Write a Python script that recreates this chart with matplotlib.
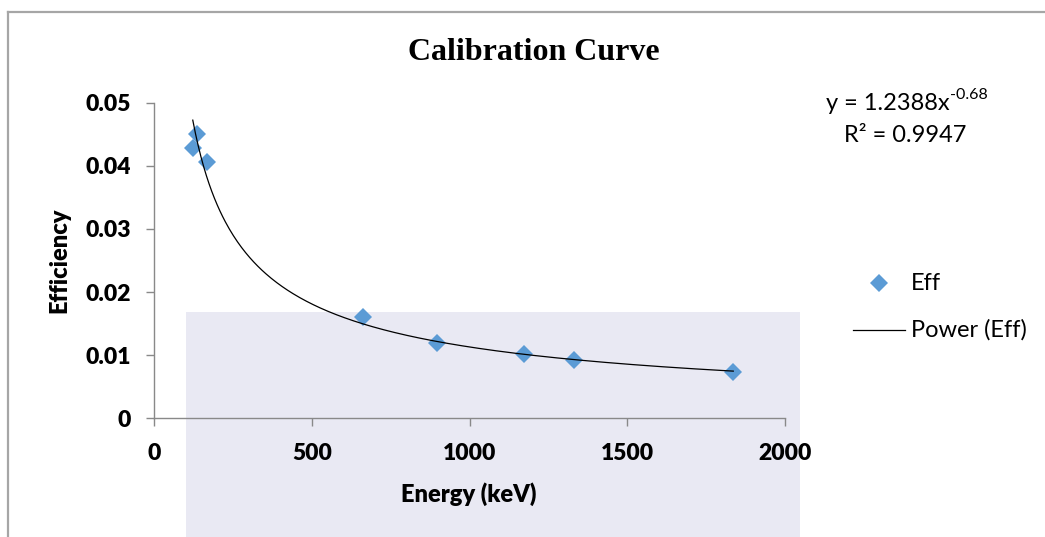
import numpy as np
import matplotlib
matplotlib.use("Agg")
import matplotlib.pyplot as plt
from matplotlib.patches import Rectangle
from matplotlib.lines import Line2D

# Measured detector efficiency at each gamma-ray energy
energy_kev = [122, 136, 166, 662, 898, 1173, 1332, 1836]
efficiency = [0.0429, 0.0451, 0.0406, 0.0161, 0.0119, 0.0102, 0.0092, 0.0073]

# Power-law trendline coefficients (y = a * x^b)
fit_a = 1.2388
fit_b = -0.68
fit_r2 = 0.9947

x_ticks = [0, 500, 1000, 1500, 2000]
y_ticks = [0, 0.01, 0.02, 0.03, 0.04, 0.05]
y_tick_labels = ["0", "0.01", "0.02", "0.03", "0.04", "0.05"]

W, H = 1045, 537
fig = plt.figure(figsize=(W / 100, H / 100), dpi=100)
fig.patch.set_facecolor("white")

# chart area frame
fig.add_artist(Line2D([7.5 / W, 1.0], [1 - 12 / H, 1 - 12 / H], color="#a6a6a6", lw=1.6))
fig.add_artist(Line2D([7.5 / W, 7.5 / W], [0, 1 - 12 / H], color="#a6a6a6", lw=1.6))

# pale background panel behind the lower part of the plot
fig.add_artist(Rectangle((186 / W, 0), (800 - 186) / W, (537 - 312) / H,
                         transform=fig.transFigure, facecolor="#e9e9f3",
                         edgecolor="none", zorder=0))

ax = fig.add_axes([154.3 / W, 1 - 418.3 / H, (785 - 154.3) / W, (418.3 - 102.7) / H])
ax.set_facecolor("none")
ax.set_zorder(2)

ax.set_xlim(0, 2000)
ax.set_ylim(0, 0.05)

for s in ["top", "right"]:
    ax.spines[s].set_visible(False)
for s in ["left", "bottom"]:
    ax.spines[s].set_color("#898989")
    ax.spines[s].set_linewidth(1.0)

ax.set_xticks(x_ticks)
ax.set_yticks(y_ticks)
ax.set_yticklabels(y_tick_labels)
ax.tick_params(axis="both", direction="out", length=6, width=1.0, color="#898989",
               labelsize=16.5)
ax.tick_params(axis="y", pad=11)
ax.tick_params(axis="x", pad=12)
for lab in ax.get_xticklabels() + ax.get_yticklabels():
    lab.set_fontfamily("Lato")
    lab.set_fontweight("heavy")

# data points
ax.plot(energy_kev, efficiency, linestyle="none", marker="D", markersize=9,
        color="#5b9bd5", markeredgewidth=0, zorder=3, clip_on=False)

# power-law trendline across the data range
xs = np.linspace(min(energy_kev), max(energy_kev), 400)
ax.plot(xs, fit_a * xs ** fit_b, color="black", lw=0.9, zorder=4, clip_on=False)

# titles and axis labels
fig.text(534 / W, 1 - 52 / H, "Calibration Curve", ha="center", va="center",
         fontfamily="Liberation Serif", fontweight="bold", fontsize=23)
fig.text(59 / W, 1 - 260 / H, "Efficiency", ha="center", va="center", rotation=90,
         fontfamily="Lato", fontweight="heavy", fontsize=17)
fig.text(468.5 / W, 1 - 494 / H, "Energy (keV)", ha="center", va="center",
         fontfamily="Lato", fontweight="heavy", fontsize=17)

# trendline equation with superscript exponent
eq = fig.text(826 / W, 1 - 104 / H, "y = %.4fx" % fit_a,
              ha="left", va="center", fontfamily="Lato", fontsize=17)
fig.add_artist(plt.Annotation("%.2f" % fit_b, xy=(1.0, 0.92), xycoords=eq,
                              ha="left", va="center", fontfamily="Lato",
                              fontsize=11.5, annotation_clip=False))
fig.text(905 / W, 1 - 135 / H, "R\u00b2 = %.4f" % fit_r2,
         ha="center", va="center", fontfamily="Lato", fontsize=17)

# legend
fig.add_artist(Line2D([879 / W], [1 - 283 / H], marker="D", markersize=9,
                      color="#5b9bd5", markeredgewidth=0, linestyle="none"))
fig.text(911 / W, 1 - 283 / H, "Eff", ha="left", va="center",
         fontfamily="Lato", fontsize=17)
fig.add_artist(Line2D([853 / W, 905 / W], [1 - 330 / H, 1 - 330 / H],
                      color="black", lw=0.9))
fig.text(911 / W, 1 - 330 / H, "Power (Eff)", ha="left", va="center",
         fontfamily="Lato", fontsize=17)

fig.savefig("out.png", dpi=100)
